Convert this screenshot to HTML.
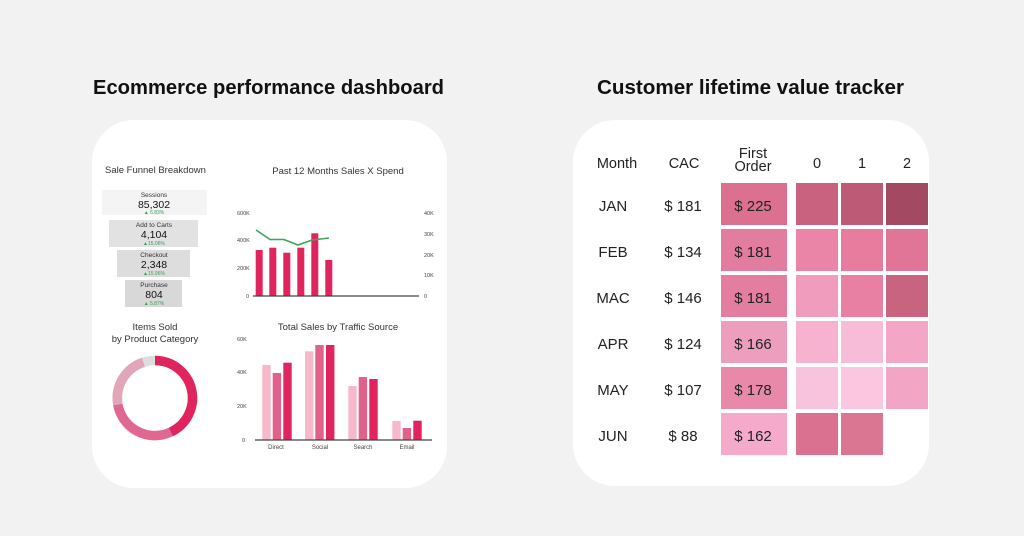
<!DOCTYPE html>
<html><head><meta charset="utf-8"><style>
html,body{margin:0;padding:0;background:#f2f2f2;}
svg{display:block;font-family:"Liberation Sans",sans-serif;}
</style></head><body>
<svg width="1024" height="536" viewBox="0 0 1024 536" xmlns="http://www.w3.org/2000/svg">
<rect width="1024" height="536" fill="#f2f2f2"/>
<text x="93" y="94" font-size="20" font-weight="bold" fill="#111" textLength="351" lengthAdjust="spacingAndGlyphs">Ecommerce performance dashboard</text>
<text x="597" y="94" font-size="20" font-weight="bold" fill="#111" textLength="307" lengthAdjust="spacingAndGlyphs">Customer lifetime value tracker</text>

<!-- left card -->
<rect x="92" y="120" width="355" height="368" rx="42" fill="#fff"/>
<text x="105" y="173" font-size="9.5" fill="#333">Sale Funnel Breakdown</text>
<g font-size="6.5" fill="#333" text-anchor="middle">
<rect x="102" y="190" width="105" height="25" fill="#f4f4f4"/>
<text x="154" y="197">Sessions</text><text x="154" y="208" font-size="10.5" fill="#111">85,302</text><text x="154" y="214" font-size="5" fill="#3a9a55">▲ 6.83%</text>
<rect x="109" y="220" width="89" height="27" fill="#e2e2e2"/>
<text x="154" y="227">Add to Carts</text><text x="154" y="238" font-size="10.5" fill="#111">4,104</text><text x="154" y="245" font-size="5" fill="#3a9a55">▲15.06%</text>
<rect x="117" y="250" width="73" height="27" fill="#dddddd"/>
<text x="154" y="257">Checkout</text><text x="154" y="268" font-size="10.5" fill="#111">2,348</text><text x="154" y="275" font-size="5" fill="#3a9a55">▲15.96%</text>
<rect x="125" y="280" width="57" height="27" fill="#d8d8d8"/>
<text x="154" y="287">Purchase</text><text x="154" y="298" font-size="10.5" fill="#111">804</text><text x="154" y="305" font-size="5" fill="#3a9a55">▲ 5.87%</text>
</g>

<text x="338" y="174" font-size="9.5" fill="#333" text-anchor="middle">Past 12 Months Sales X Spend</text>
<g font-size="5.5" fill="#444">
<text x="237" y="215">600K</text><text x="237" y="242">400K</text><text x="237" y="270">200K</text><text x="246" y="298">0</text>
<text x="424" y="215">40K</text><text x="424" y="236">30K</text><text x="424" y="257">20K</text><text x="424" y="277">10K</text><text x="424" y="298">0</text>
</g>
<g fill="#e0245e">
<rect x="255.7" y="250" width="7" height="46"/><rect x="269.3" y="247.7" width="7" height="48.3"/>
<rect x="283.3" y="252.7" width="7" height="43.3"/><rect x="297.3" y="247.7" width="7" height="48.3"/>
<rect x="311.3" y="233.3" width="7" height="62.7"/><rect x="325.3" y="260" width="7" height="36"/>
</g>
<line x1="253" y1="296" x2="419" y2="296" stroke="#444" stroke-width="1.2"/>
<polyline points="256,230 270,239.5 284,239.5 298,245 312,240 329,238" fill="none" stroke="#3fa35a" stroke-width="1.6"/>

<text x="155" y="330" font-size="9.5" fill="#333" text-anchor="middle">Items Sold</text>
<text x="155" y="342" font-size="9.5" fill="#333" text-anchor="middle">by Product Category</text>
<g fill="none" stroke-width="9.5">
<circle cx="155" cy="398" r="37.5" stroke="#dddddd"/>
<path d="M155 360.5 A37.5 37.5 0 0 1 170.8 432" stroke="#e0245e"/>
<path d="M170.8 432 A37.5 37.5 0 0 1 117.8 404.5" stroke="#e06890"/>
<path d="M117.8 404.5 A37.5 37.5 0 0 1 143.4 362.3" stroke="#e3a6b8"/>
</g>

<text x="338" y="330" font-size="9.5" fill="#333" text-anchor="middle">Total Sales by Traffic Source</text>
<g font-size="5.5" fill="#444">
<text x="237" y="341">60K</text><text x="237" y="374">40K</text><text x="237" y="408">20K</text><text x="242" y="442">0</text>
</g>
<g>
<rect x="262.3" y="365" width="8.4" height="75" fill="#f7b8cb"/><rect x="272.7" y="373" width="8.4" height="67" fill="#e0628a"/><rect x="283.3" y="362.7" width="8.4" height="77.3" fill="#e0245e"/>
<rect x="305" y="351.3" width="8.4" height="88.7" fill="#f7b8cb"/><rect x="315.3" y="345" width="8.4" height="95" fill="#e0628a"/><rect x="326" y="345" width="8.4" height="95" fill="#e0245e"/>
<rect x="348.3" y="386" width="8.4" height="54" fill="#f7b8cb"/><rect x="358.7" y="377" width="8.4" height="63" fill="#e0628a"/><rect x="369.3" y="379" width="8.4" height="61" fill="#e0245e"/>
<rect x="392.3" y="421" width="8.4" height="19" fill="#f7b8cb"/><rect x="402.7" y="428" width="8.4" height="12" fill="#e0628a"/><rect x="413.3" y="420.7" width="8.4" height="19.3" fill="#e0245e"/>
</g>
<line x1="255" y1="440" x2="432" y2="440" stroke="#444" stroke-width="1.2"/>
<g font-size="6" fill="#444" text-anchor="middle">
<text x="276" y="449">Direct</text><text x="320" y="449">Social</text><text x="363" y="449">Search</text><text x="407" y="449">Email</text>
</g>

<!-- right card -->
<rect x="573" y="120" width="356" height="366" rx="42" fill="#fff"/>
<g font-size="14.5" fill="#222" text-anchor="middle">
<text x="617" y="168">Month</text><text x="684" y="168">CAC</text>
<text x="753" y="158">First</text><text x="753" y="171">Order</text>
<text x="817" y="168">0</text><text x="862" y="168">1</text><text x="907" y="168">2</text>
</g>
<g>
<rect x="721" y="183" width="66" height="42" fill="#dc7090"/><rect x="796" y="183" width="42" height="42" fill="#c8627f"/><rect x="841" y="183" width="42" height="42" fill="#bd5a76"/><rect x="886" y="183" width="42" height="42" fill="#a34a62"/>
<rect x="721" y="229" width="66" height="42" fill="#e27d9f"/><rect x="796" y="229" width="42" height="42" fill="#ea85a8"/><rect x="841" y="229" width="42" height="42" fill="#e77c9f"/><rect x="886" y="229" width="42" height="42" fill="#e07597"/>
<rect x="721" y="275" width="66" height="42" fill="#e47ea0"/><rect x="796" y="275" width="42" height="42" fill="#f09dbd"/><rect x="841" y="275" width="42" height="42" fill="#e880a3"/><rect x="886" y="275" width="42" height="42" fill="#c8647f"/>
<rect x="721" y="321" width="66" height="42" fill="#ee9ebd"/><rect x="796" y="321" width="42" height="42" fill="#f6b2cf"/><rect x="841" y="321" width="42" height="42" fill="#f7bcd8"/><rect x="886" y="321" width="42" height="42" fill="#f4a6c6"/>
<rect x="721" y="367" width="66" height="42" fill="#e889aa"/><rect x="796" y="367" width="42" height="42" fill="#f8c3dd"/><rect x="841" y="367" width="42" height="42" fill="#fac6e0"/><rect x="886" y="367" width="42" height="42" fill="#f2a5c4"/>
<rect x="721" y="413" width="66" height="42" fill="#f6aacb"/><rect x="796" y="413" width="42" height="42" fill="#da7190"/><rect x="841" y="413" width="42" height="42" fill="#da7592"/>
</g>
<g font-size="15" fill="#222" text-anchor="middle">
<text x="613" y="211">JAN</text><text x="683" y="211">$ 181</text><text x="753" y="211">$ 225</text>
<text x="613" y="257">FEB</text><text x="683" y="257">$ 134</text><text x="753" y="257">$ 181</text>
<text x="613" y="303">MAC</text><text x="683" y="303">$ 146</text><text x="753" y="303">$ 181</text>
<text x="613" y="349">APR</text><text x="683" y="349">$ 124</text><text x="753" y="349">$ 166</text>
<text x="613" y="395">MAY</text><text x="683" y="395">$ 107</text><text x="753" y="395">$ 178</text>
<text x="613" y="441">JUN</text><text x="683" y="441">$ 88</text><text x="753" y="441">$ 162</text>
</g>
</svg>
</body></html>
